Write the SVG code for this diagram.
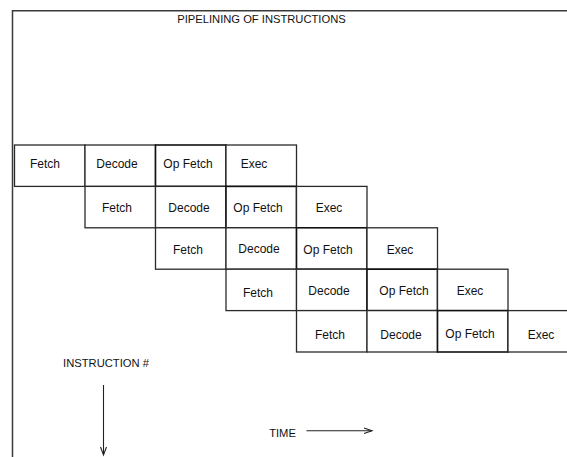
<svg xmlns="http://www.w3.org/2000/svg" width="567" height="457" viewBox="0 0 567 457">
<defs>
<style>
.frame{fill:none;stroke:#3a3a3a;stroke-width:1.5}
.cell rect{fill:#fff;stroke:#2a2a2a;stroke-width:1.3}
.cell.op rect{stroke:#111;stroke-width:1.6}
text{font-family:"Liberation Sans",Arial,sans-serif;font-size:12px;fill:#111;text-anchor:middle}
.lbl{font-size:11.2px}
.ln{fill:none;stroke:#222;stroke-width:1.1}
</style>
</defs>
<rect width="567" height="457" fill="#fff"/>
<path class="frame" d="M12.5,457 V10.8 H567"/>
<text class="lbl" x="261.5" y="23">PIPELINING OF INSTRUCTIONS</text>

<g id="i1-fetch" class="cell"><rect x="14.5" y="145" width="70.5" height="41.4"/><text x="45" y="168">Fetch</text></g>
<g id="i1-decode" class="cell"><rect x="85" y="145" width="70.5" height="41.4"/><text x="117" y="168">Decode</text></g>
<g id="i1-opfetch" class="cell op"><rect x="155.5" y="145" width="70.5" height="41.4"/><text x="188" y="168">Op Fetch</text></g>
<g id="i1-exec" class="cell"><rect x="226" y="145" width="70.5" height="41.4"/><text x="254" y="168">Exec</text></g>

<g id="i2-fetch" class="cell"><rect x="85" y="186.4" width="70.5" height="41.4"/><text x="117" y="212">Fetch</text></g>
<g id="i2-decode" class="cell"><rect x="155.5" y="186.4" width="70.5" height="41.4"/><text x="189" y="212">Decode</text></g>
<g id="i2-opfetch" class="cell op"><rect x="226" y="186.4" width="70.5" height="41.4"/><text x="258" y="212">Op Fetch</text></g>
<g id="i2-exec" class="cell"><rect x="296.5" y="186.4" width="70.5" height="41.4"/><text x="329" y="212">Exec</text></g>

<g id="i3-fetch" class="cell"><rect x="155.5" y="227.8" width="70.5" height="41.4"/><text x="188" y="254">Fetch</text></g>
<g id="i3-decode" class="cell"><rect x="226" y="227.8" width="70.5" height="41.4"/><text x="259" y="253">Decode</text></g>
<g id="i3-opfetch" class="cell op"><rect x="296.5" y="227.8" width="70.5" height="41.4"/><text x="328" y="254">Op Fetch</text></g>
<g id="i3-exec" class="cell"><rect x="367" y="227.8" width="70.5" height="41.4"/><text x="400" y="254">Exec</text></g>

<g id="i4-fetch" class="cell"><rect x="226" y="269.2" width="70.5" height="41.4"/><text x="258" y="297">Fetch</text></g>
<g id="i4-decode" class="cell"><rect x="296.5" y="269.2" width="70.5" height="41.4"/><text x="329" y="295">Decode</text></g>
<g id="i4-opfetch" class="cell op"><rect x="367" y="269.2" width="70.5" height="41.4"/><text x="404" y="295">Op Fetch</text></g>
<g id="i4-exec" class="cell"><rect x="437.5" y="269.2" width="70.5" height="41.4"/><text x="470" y="295">Exec</text></g>

<g id="i5-fetch" class="cell"><rect x="296.5" y="310.6" width="70.5" height="41.4"/><text x="330" y="339">Fetch</text></g>
<g id="i5-decode" class="cell"><rect x="367" y="310.6" width="70.5" height="41.4"/><text x="401" y="339">Decode</text></g>
<g id="i5-opfetch" class="cell op"><rect x="437.5" y="310.6" width="70.5" height="41.4"/><text x="470" y="338">Op Fetch</text></g>
<g id="i5-exec" class="cell"><rect x="508" y="310.6" width="70.5" height="41.4"/><text x="541" y="339">Exec</text></g>

<text class="lbl" x="106" y="366.5">INSTRUCTION #</text>
<text class="lbl" x="282.5" y="436.5">TIME</text>

<g id="connectors">
<path class="ln" d="M103.5,385 V454"/>
<path class="ln" d="M100.5,447 L103.5,455 L106.5,447"/>
<path class="ln" d="M306.5,430.8 H372"/>
<path class="ln" d="M364,428 L372,430.8 L364,433.5"/>
</g>
</svg>
